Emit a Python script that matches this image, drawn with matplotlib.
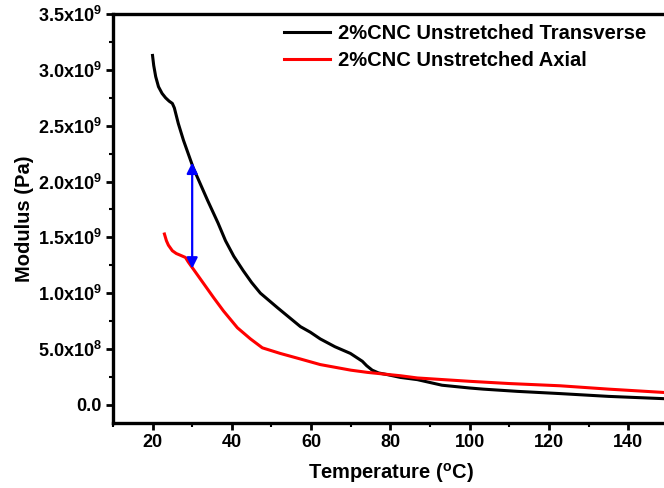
import matplotlib
matplotlib.use("Agg")
import matplotlib.pyplot as plt
from matplotlib.ticker import FixedLocator, MultipleLocator

plt.rcParams['font.family'] = ['Liberation Sans', 'DejaVu Sans']
plt.rcParams['font.weight'] = 'bold'
plt.rcParams['mathtext.fontset'] = 'custom'
plt.rcParams['mathtext.rm'] = 'Liberation Sans:bold'
plt.rcParams['mathtext.bf'] = 'Liberation Sans:bold'
plt.rcParams['mathtext.default'] = 'bf'

# 2%CNC unstretched, transverse direction (temperature in C, modulus in Pa)
trans_temp = [20.0, 20.3, 20.8, 21.5, 22.4, 23.3, 24.2, 25.0, 25.5, 26.5, 27.8,
              30.3, 33.9, 36.5, 38.4, 40.5, 42.9, 45.0, 47.2, 51.5, 57.3, 59.8,
              62.3, 66.0, 69.9, 72.9, 74.0, 75.4, 77.0, 79.2, 82.5, 86.8, 93.0,
              100.0, 103.4, 112.0, 122.8, 135.0, 150.0]
trans_mod = [3.13e9, 3.04e9, 2.94e9, 2.85e9, 2.79e9, 2.75e9, 2.72e9, 2.70e9,
             2.66e9, 2.52e9, 2.37e9, 2.12e9, 1.83e9, 1.63e9, 1.47e9, 1.33e9,
             1.20e9, 1.095e9, 1.00e9, 0.87e9, 0.70e9, 0.65e9, 0.59e9, 0.52e9,
             0.46e9, 0.39e9, 0.35e9, 0.31e9, 0.285e9, 0.27e9, 0.245e9,
             0.225e9, 0.175e9, 0.15e9, 0.14e9, 0.12e9, 0.10e9, 0.075e9,
             0.053e9]

# 2%CNC unstretched, axial direction
axial_temp = [23.0, 23.5, 24.0, 25.0, 26.0, 27.0, 28.3, 29.0, 30.0, 32.0, 34.6,
              35.4, 37.9, 41.4, 44.7, 47.7, 52.2, 57.3, 62.3, 70.0, 74.2, 82.5,
              86.8, 100.0, 110.0, 122.8, 135.0, 150.0]
axial_mod = [1.53e9, 1.47e9, 1.43e9, 1.38e9, 1.355e9, 1.34e9, 1.32e9, 1.28e9,
             1.23e9, 1.13e9, 1.00e9, 0.96e9, 0.84e9, 0.69e9, 0.59e9, 0.51e9,
             0.46e9, 0.41e9, 0.36e9, 0.31e9, 0.29e9, 0.26e9, 0.24e9, 0.21e9,
             0.19e9, 0.17e9, 0.14e9, 0.108e9]

# gap marked by the arrow at 30 C
arrow_temp = 30
arrow_low = 1.22e9
arrow_high = 2.17e9

ytick_vals = [0, 5e8, 1e9, 1.5e9, 2e9, 2.5e9, 3e9, 3.5e9]
ytick_labels = ['0.0', '5.0x10$^{8}$', '1.0x10$^{9}$', '1.5x10$^{9}$',
                '2.0x10$^{9}$', '2.5x10$^{9}$', '3.0x10$^{9}$', '3.5x10$^{9}$']
xtick_vals = [20, 40, 60, 80, 100, 120, 140]

fig = plt.figure(figsize=(6.64, 4.88), dpi=100)
ax = fig.add_axes([0.170, 0.134, 0.836, 0.837])

ax.plot(trans_temp, trans_mod, color='black', lw=2.2,
        label='2%CNC Unstretched Transverse')
ax.plot(axial_temp, axial_mod, color='red', lw=2.2,
        label='2%CNC Unstretched Axial')

ax.annotate('', xy=(arrow_temp, arrow_high), xytext=(arrow_temp, arrow_low),
            arrowprops=dict(arrowstyle='<|-|>', color='blue', lw=1.6,
                            mutation_scale=16, shrinkA=0, shrinkB=0))

ax.set_xlim(10, 150)
ax.set_ylim(-1.6e8, 3.5e9)
ax.xaxis.set_major_locator(FixedLocator(xtick_vals))
ax.xaxis.set_minor_locator(MultipleLocator(10))
ax.set_yticks(ytick_vals)
ax.set_yticklabels(ytick_labels)
ax.yaxis.set_minor_locator(MultipleLocator(2.5e8))

for s in ax.spines.values():
    s.set_linewidth(2.4)
ax.tick_params(which='major', direction='out', length=5, width=2,
               labelsize=13, pad=3)
ax.tick_params(which='minor', direction='out', length=3, width=1.5)
for lab in ax.get_xticklabels() + ax.get_yticklabels():
    lab.set_fontweight('bold')

ax.set_xlabel('Temperature ($^{o}$C)', fontsize=14.5, fontweight='bold')
ax.set_ylabel('Modulus (Pa)', fontsize=14.5, fontweight='bold')
ax.xaxis.set_label_coords(0.5, -0.095)
ax.yaxis.set_label_coords(-0.143, 0.5)

ax.legend(loc='upper left', bbox_to_anchor=(284 / 664, 1 - 24 / 488),
          bbox_transform=fig.transFigure, frameon=False,
          prop={'size': 14.5, 'weight': 'bold'},
          handlelength=2.3, handletextpad=0.4, labelspacing=0.4,
          borderpad=0, borderaxespad=0)

fig.savefig('out.png', dpi=100)
